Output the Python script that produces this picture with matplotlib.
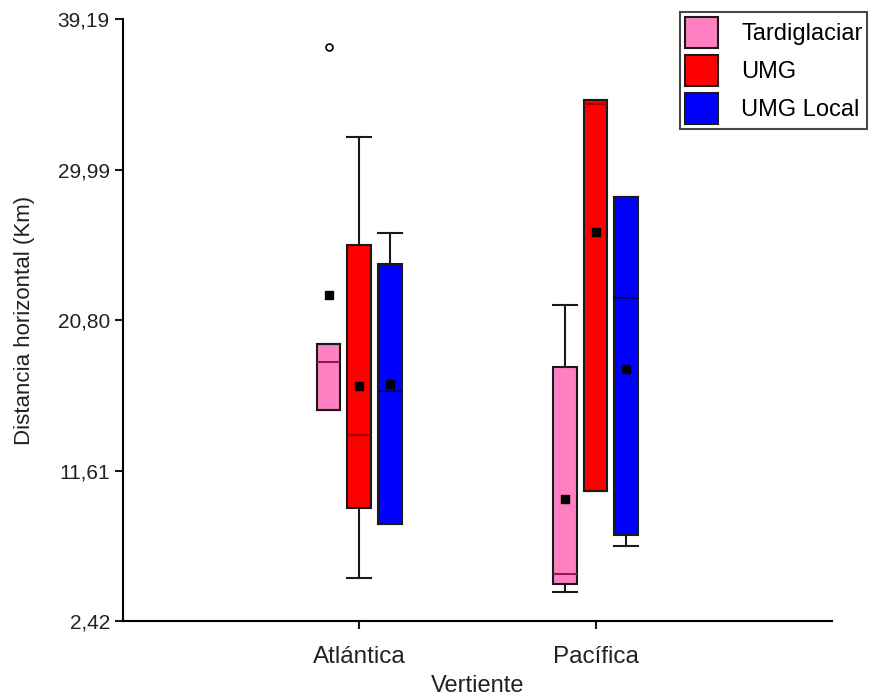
import matplotlib
matplotlib.use('Agg')
import matplotlib.pyplot as plt
from matplotlib.patches import Patch

plt.rcParams['font.family'] = ['Liberation Sans', 'DejaVu Sans']

vertientes = ['Atlántica', 'Pacífica']
grupos = ['Tardiglaciar', 'UMG', 'UMG Local']
colores = ['#ff80c0', '#ff0000', '#0000ff']
color_mediana = ['#8b2050', '#a00000', '#000070']

# each row is one group, columns are [Atlántica, Pacífica]
bigote_inf = [[15.31, 4.18], [5.03, 10.34], [8.34, 7.02]]
q1 = [[15.31, 4.67], [9.33, 10.34], [8.34, 7.71]]
mediana = [[18.24, 5.28], [13.79, 33.97], [16.48, 22.16]]
q3 = [[19.32, 17.96], [25.36, 34.21], [24.24, 28.30]]
bigote_sup = [[19.32, 21.75], [31.98, 34.21], [26.09, 28.30]]
media = [[22.36, 9.90], [16.79, 26.15], [16.89, 17.80]]
atipicos = [[[37.45], []], [[], []], [[], []]]

y_ticks = [2.42, 11.61, 20.80, 29.99, 39.19]
y_tick_labels = ['2,42', '11,61', '20,80', '29,99', '39,19']

fig = plt.figure(figsize=(8.72, 6.98), dpi=100)
ax = fig.add_axes([0.141, 0.110, 0.813, 0.863])

ancho = 0.1
desplaz = [-0.13, 0.0, 0.13]

for g in range(len(grupos)):
    stats = []
    for v in range(len(vertientes)):
        stats.append({
            'whislo': bigote_inf[g][v], 'q1': q1[g][v], 'med': mediana[g][v],
            'q3': q3[g][v], 'whishi': bigote_sup[g][v], 'mean': media[g][v],
            'fliers': atipicos[g][v],
        })
    pos = [v + 1 + desplaz[g] for v in range(len(vertientes))]
    ax.bxp(stats, positions=pos, widths=ancho, capwidths=ancho,
           patch_artist=True, showmeans=True,
           boxprops=dict(facecolor=colores[g], edgecolor='#1a1a1a', linewidth=1.5),
           medianprops=dict(color=color_mediana[g], linewidth=1.5),
           whiskerprops=dict(color='#1a1a1a', linewidth=1.5),
           capprops=dict(color='#1a1a1a', linewidth=1.5),
           meanprops=dict(marker='s', markerfacecolor='black', markeredgecolor='black', markersize=6),
           flierprops=dict(marker='o', markerfacecolor='white', markeredgecolor='black',
                           markersize=5, markeredgewidth=1.2))

ax.set_xlim(0, 3)
ax.set_ylim(2.42, 39.19)
ax.set_xticks([1, 2])
ax.set_xticklabels(vertientes, fontsize=17.5)
ax.set_yticks(y_ticks)
ax.set_yticklabels(y_tick_labels, fontsize=15)
ax.tick_params(axis='both', direction='out', length=6, width=1.5, color='#1a1a1a', labelcolor='#222222')
ax.tick_params(axis='x', pad=12)
ax.spines['top'].set_visible(False)
ax.spines['right'].set_visible(False)
ax.spines['left'].set_linewidth(1.5)
ax.spines['bottom'].set_linewidth(1.5)
ax.set_xlabel('Vertiente', fontsize=17, color='#222222', labelpad=5)
ax.set_ylabel('Distancia horizontal (Km)', fontsize=16, color='#222222', labelpad=16)

handles = [Patch(facecolor=c, edgecolor='#1a1a1a', linewidth=1.5) for c in colores]
leg = fig.legend(handles, grupos, loc='upper left', bbox_to_anchor=(680 / 872, 1 - 12 / 698),
                 fontsize=17, frameon=True, fancybox=False, borderpad=0.2,
                 handlelength=1.4, handleheight=1.65, handletextpad=1.0, labelspacing=0.3,
                 borderaxespad=0)
leg.get_frame().set_edgecolor('#1a1a1a')
leg.get_frame().set_linewidth(1.5)

fig.savefig('out.png', dpi=100)
